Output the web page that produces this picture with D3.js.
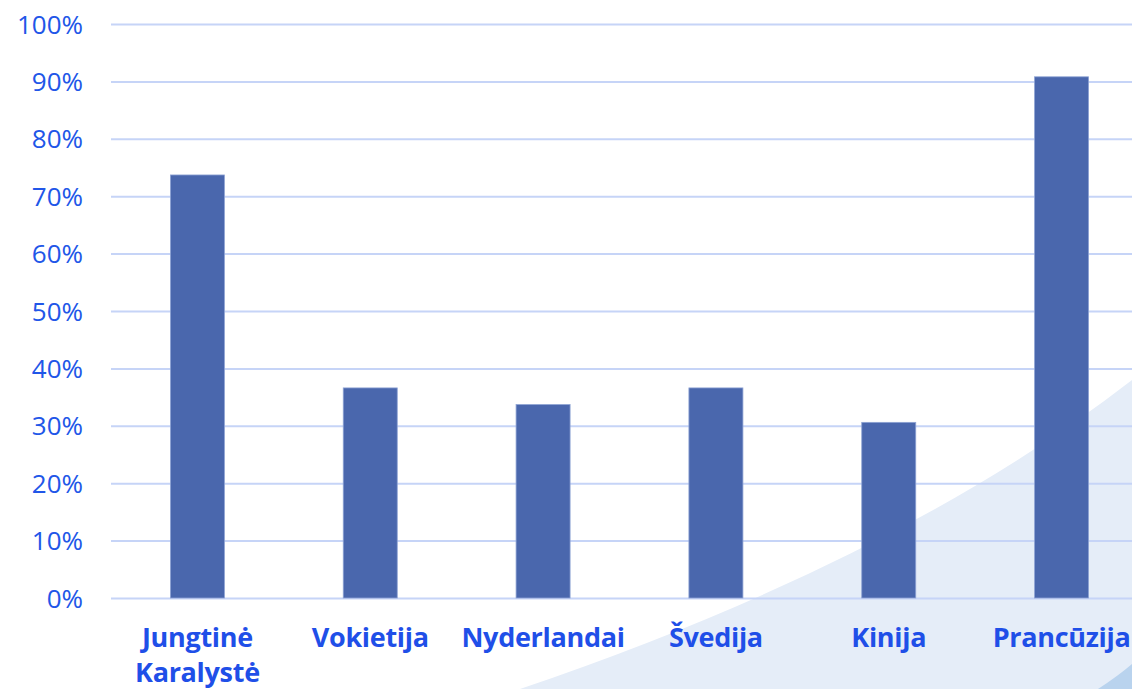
<!DOCTYPE html>
<html><head><meta charset="utf-8">
<script src="https://cdn.jsdelivr.net/npm/d3@7"></script>
<style>body{margin:0;background:#fff;overflow:hidden}</style>
</head><body>
<svg id="c" width="1132" height="689"></svg>
<script>
const categories = [["Jungtinė","Karalystė"],["Vokietija"],["Nyderlandai"],["Švedija"],["Kinija"],["Prancūzija"]];
const values = [73.7, 36.6, 33.7, 36.6, 30.6, 90.8];
const yTicks = [0,10,20,30,40,50,60,70,80,90,100];

(function(){
const svg = d3.select("#c");
const W = 1132, H = 689;
const mLeft = 111, mTop = 24, mBottom = 598;

// decorative background
svg.append("path").attr("d", `M520,${H} Q900,560 ${W},380 L${W},${H} Z`).attr("fill", "#e5edf8");
svg.append("path").attr("d", `M1098,${H} Q1118,676 ${W},664 L${W},${H} Z`).attr("fill", "#b9d3ee");

const keys = categories.map(c => c.join(" "));
const x = d3.scaleBand().domain(keys).range([mLeft, 1148]).paddingInner(0.6875).paddingOuter(0.34375);
const y = d3.scaleLinear().domain([0, 100]).range([mBottom, mTop]);

const yAxis = d3.axisLeft(y).tickValues(yTicks).tickFormat(d => d + "%").tickSize(-(W - mLeft)).tickPadding(28);
const gy = svg.append("g").attr("transform", `translate(${mLeft},0)`).call(yAxis);
gy.select(".domain").remove();
gy.selectAll(".tick line").attr("stroke", "#c6d4f7").attr("stroke-width", 2);
gy.selectAll(".tick text").attr("fill", "#2156e8").attr("font-family", "'Open Sans', sans-serif").attr("font-size", 26).attr("dy", "0.35em");

svg.append("g").selectAll("rect").data(values).join("rect")
  .attr("x", (d, i) => x(keys[i]))
  .attr("width", x.bandwidth())
  .attr("y", d => y(d))
  .attr("height", d => y(0) - y(d))
  .attr("fill", "#4a67ad")
  .attr("stroke", "#8ea3d4").attr("stroke-width", 0.8);

const xl = svg.append("g");
categories.forEach((lines, i) => {
  const cx = x(keys[i]) + x.bandwidth() / 2;
  const t = xl.append("text")
    .attr("text-anchor", "middle")
    .attr("fill", "#1f4fe8")
    .attr("font-family", "'Open Sans', sans-serif")
    .attr("font-weight", 700)
    .attr("font-size", 27)
    .attr("letter-spacing", -0.3);
  lines.forEach((l, j) => t.append("tspan").attr("x", cx).attr("y", 647 + j * 35).text(l));
});
})();
</script>
</body></html>
